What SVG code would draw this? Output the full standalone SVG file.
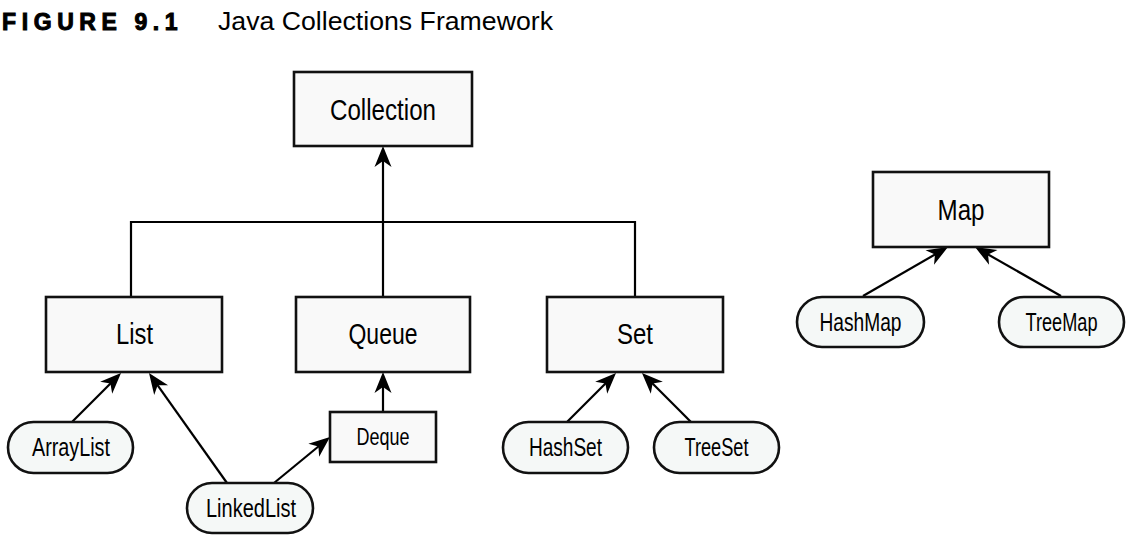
<svg xmlns="http://www.w3.org/2000/svg" width="1135" height="539" viewBox="0 0 1135 539">
<defs>
<style>
.box{fill:#f9f9f9;stroke:#111;stroke-width:2.6}
.pill{fill:#f5f8f7;stroke:#111;stroke-width:2.6}
.lbl{font-family:"Liberation Sans Narrow","Liberation Sans",Arial,sans-serif;fill:#000;text-anchor:middle}
.big{font-size:30px}
.mid{font-size:25px}
.sm{font-size:23px}
.edge{fill:none;stroke:#000;stroke-width:2.2}
.ttl{font-family:"Liberation Sans",Arial,sans-serif;fill:#000}
</style>
<marker id="ah" markerUnits="userSpaceOnUse" markerWidth="30" markerHeight="20" refX="20" refY="10" orient="auto" overflow="visible">
<path d="M24,10 L3,1.5 L9,10 L3,18.5 Z" fill="#000"/>
</marker>
</defs>
<rect width="1135" height="539" fill="#fff"/>
<g id="title">
<text class="ttl" x="2" y="30" style="font-size:23px;font-weight:bold;letter-spacing:5.6px" stroke="#000" stroke-width="1">FIGURE 9.1</text>
<text class="ttl" x="218" y="30" style="font-size:25px" textLength="335" lengthAdjust="spacingAndGlyphs">Java Collections Framework</text>
</g>
<g id="connectors">
<path class="edge" d="M131,297 V222 H635 V297"/>
<path class="edge" d="M383,297 V150" marker-end="url(#ah)"/>
<path class="edge" d="M383,412 V376" marker-end="url(#ah)"/>
<path class="edge" d="M72,422 L118.2,375.8" marker-end="url(#ah)"/>
<path class="edge" d="M227,483 L151.3,376.3" marker-end="url(#ah)"/>
<path class="edge" d="M274,483 L326.9,439.5" marker-end="url(#ah)"/>
<path class="edge" d="M567,422 L613.2,375.8" marker-end="url(#ah)"/>
<path class="edge" d="M691,422 L644.8,375.8" marker-end="url(#ah)"/>
<path class="edge" d="M863,296 L944.5,249" marker-end="url(#ah)"/>
<path class="edge" d="M1061,296 L978.5,249" marker-end="url(#ah)"/>
</g>
<g id="collection"><rect class="box" x="294" y="72" width="178" height="74"/><text class="lbl big" x="383" y="119.5" textLength="106" lengthAdjust="spacingAndGlyphs">Collection</text></g>
<g id="list"><rect class="box" x="46" y="297" width="176" height="75"/><text class="lbl big" x="134.5" y="344" textLength="37" lengthAdjust="spacingAndGlyphs">List</text></g>
<g id="queue"><rect class="box" x="296" y="297" width="174" height="75"/><text class="lbl big" x="383" y="344" textLength="69" lengthAdjust="spacingAndGlyphs">Queue</text></g>
<g id="set"><rect class="box" x="547" y="297" width="176" height="75"/><text class="lbl big" x="635" y="344" textLength="36" lengthAdjust="spacingAndGlyphs">Set</text></g>
<g id="map"><rect class="box" x="873" y="172" width="176" height="75"/><text class="lbl big" x="961" y="220" textLength="47" lengthAdjust="spacingAndGlyphs">Map</text></g>
<g id="deque"><rect class="box" x="330" y="412" width="106" height="50"/><text class="lbl sm" x="383" y="445" textLength="53" lengthAdjust="spacingAndGlyphs">Deque</text></g>
<g id="arraylist"><rect class="pill" x="8" y="422" width="125" height="51" rx="25.5"/><text class="lbl mid" x="71" y="456" textLength="78" lengthAdjust="spacingAndGlyphs">ArrayList</text></g>
<g id="linkedlist"><rect class="pill" x="187" y="483" width="126" height="50" rx="25"/><text class="lbl mid" x="251" y="517" textLength="90" lengthAdjust="spacingAndGlyphs">LinkedList</text></g>
<g id="hashset"><rect class="pill" x="503" y="422" width="125" height="51" rx="25.5"/><text class="lbl mid" x="565.5" y="456" textLength="73" lengthAdjust="spacingAndGlyphs">HashSet</text></g>
<g id="treeset"><rect class="pill" x="654" y="422" width="125" height="51" rx="25.5"/><text class="lbl mid" x="716.5" y="456" textLength="64" lengthAdjust="spacingAndGlyphs">TreeSet</text></g>
<g id="hashmap"><rect class="pill" x="797" y="297" width="127" height="50" rx="25"/><text class="lbl mid" x="860.5" y="331" textLength="82" lengthAdjust="spacingAndGlyphs">HashMap</text></g>
<g id="treemap"><rect class="pill" x="999" y="297" width="125" height="50" rx="25"/><text class="lbl mid" x="1061.5" y="331" textLength="72" lengthAdjust="spacingAndGlyphs">TreeMap</text></g>
</svg>
